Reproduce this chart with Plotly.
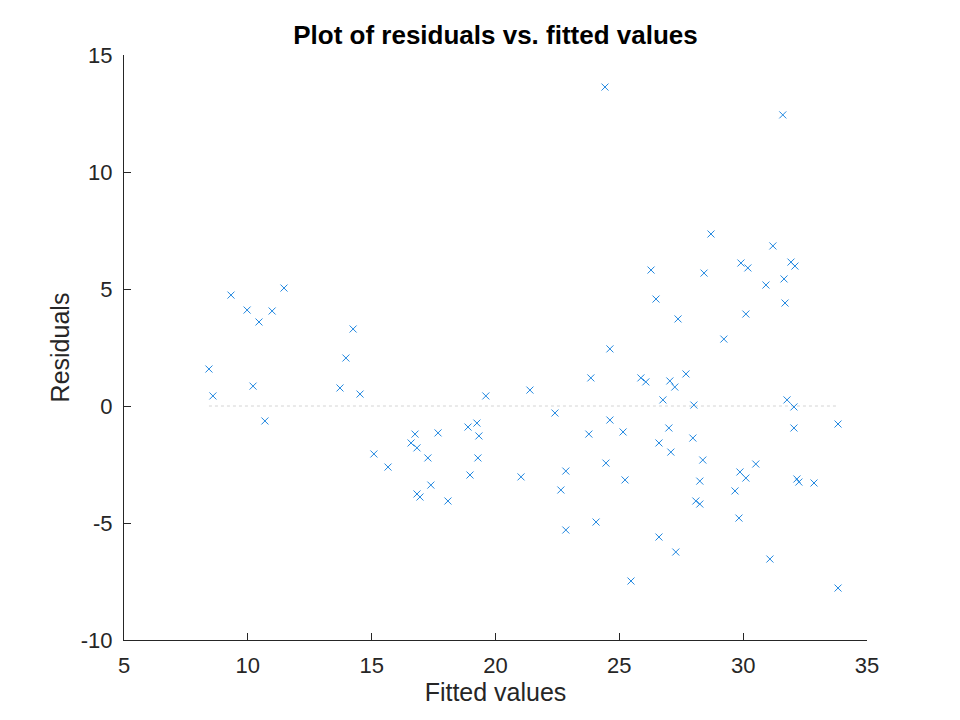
import plotly.graph_objects as go

# fitted values and residuals
fitted = [
    8.43, 8.59, 9.32, 9.97, 10.21, 10.45, 10.69, 10.98, 11.46, 13.72,
    13.96, 14.25, 14.53, 15.09, 15.66, 16.59, 16.75, 16.83, 16.83, 16.95,
    17.27, 17.39, 17.68, 18.08, 18.89, 18.97, 19.25, 19.29, 19.33, 19.61,
    21.03, 21.39, 22.40, 22.64, 22.84, 22.84, 23.77, 23.85, 24.06, 24.42,
    24.46, 24.62, 24.62, 25.15, 25.23, 25.47, 25.87, 26.07, 26.28, 26.48,
    26.60, 26.60, 26.76, 27.00, 27.04, 27.08, 27.24, 27.28, 27.37, 27.69,
    27.97, 28.01, 28.09, 28.25, 28.25, 28.37, 28.42, 28.70, 29.22, 29.67,
    29.83, 29.87, 29.91, 30.11, 30.11, 30.19, 30.51, 30.92, 31.08, 31.20,
    31.60, 31.65, 31.69, 31.77, 31.93, 32.05, 32.05, 32.09, 32.17, 32.25,
    32.86, 33.83, 33.83,
]
residuals = [
    1.58, 0.43, 4.74, 4.10, 0.85, 3.59, -0.64, 4.06, 5.04, 0.77,
    2.05, 3.29, 0.51, -2.05, -2.61, -1.58, -1.20, -1.79, -3.76, -3.89,
    -2.22, -3.38, -1.15, -4.06, -0.90, -2.95, -0.73, -2.22, -1.28, 0.43,
    -3.03, 0.68, -0.30, -3.59, -2.78, -5.30, -1.20, 1.20, -4.96, 13.63,
    -2.44, 2.44, -0.60, -1.11, -3.16, -7.48, 1.20, 1.03, 5.81, 4.57,
    -1.58, -5.60, 0.26, -0.94, 1.07, -1.97, 0.81, -6.24, 3.72, 1.37,
    -1.37, 0.04, -4.06, -4.19, -3.21, -2.31, 5.68, 7.35, 2.86, -3.63,
    -4.79, -2.82, 6.11, -3.08, 3.93, 5.90, -2.48, 5.17, -6.54, 6.84,
    12.44, 5.43, 4.40, 0.26, 6.15, -0.04, -0.94, 5.98, -3.12, -3.25,
    -3.29, -0.77, -7.78,
]

x_ticks = [5, 10, 15, 20, 25, 30, 35]
x_labels = ["5", "10", "15", "20", "25", "30", "35"]
y_ticks = [-10, -5, 0, 5, 10, 15]
y_labels = ["-10", "-5", "0", "5", "10", "15"]

axis_color = "#262626"
font_name = "Liberation Sans, Arial, sans-serif"

fig = go.Figure()

# zero reference line across the fitted range
fig.add_trace(go.Scatter(
    x=[min(fitted), max(fitted)],
    y=[0, 0],
    mode="lines",
    line=dict(color="#d4d4d4", width=1, dash="dot"),
    hoverinfo="skip",
    showlegend=False,
))

fig.add_trace(go.Scatter(
    x=fitted,
    y=residuals,
    mode="markers",
    marker=dict(symbol="x-thin", size=7,
                line=dict(color="#2288e0", width=1)),
    showlegend=False,
))

# the page body adds an 8px offset, so margins are shifted to compensate
fig.update_layout(
    width=960,
    height=720,
    paper_bgcolor="white",
    plot_bgcolor="white",
    margin=dict(l=116, r=101, t=47, b=88, autoexpand=False),
    font=dict(family=font_name, color=axis_color, size=22),
    title=dict(
        text="<b>Plot of residuals vs. fitted values</b>",
        font=dict(size=26, color="black"),
        x=0.5, xanchor="center", xref="paper",
        y=1 - 27 / 720, yanchor="middle",
        yref="container",
    ),
    xaxis=dict(
        range=[5, 35],
        tickvals=x_ticks,
        ticktext=x_labels,
        ticks="inside", ticklen=7, tickcolor=axis_color,
        showline=True, linecolor=axis_color, linewidth=1,
        showgrid=False, zeroline=False,
        ticklabelstandoff=6,
        title=dict(text="Fitted values", font=dict(size=25), standoff=0),
    ),
    yaxis=dict(
        range=[-10, 15],
        tickvals=y_ticks,
        ticktext=y_labels,
        ticks="inside", ticklen=7, tickcolor=axis_color,
        showline=True, linecolor=axis_color, linewidth=1,
        showgrid=False, zeroline=False,
        ticklabelstandoff=6,
        title=dict(text="Residuals", font=dict(size=25), standoff=4),
    ),
)

fig.write_html("out.html")
